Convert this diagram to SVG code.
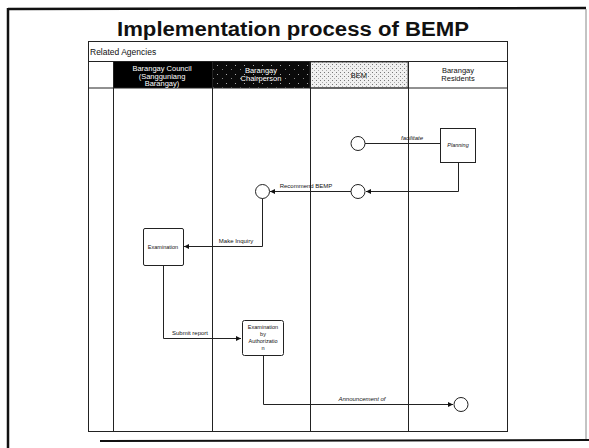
<svg xmlns="http://www.w3.org/2000/svg" width="589" height="448" viewBox="0 0 589 448">
<defs>
<pattern id="speck" width="9" height="9" patternUnits="userSpaceOnUse">
<rect width="9" height="9" fill="#0a0a0a"/>
<rect x="1" y="2" width="1" height="1" fill="#aaa"/>
<rect x="6" y="6" width="1" height="1" fill="#888"/>
</pattern>
<pattern id="stipple" width="4" height="4" patternUnits="userSpaceOnUse">
<rect width="4" height="4" fill="#f0f0f0"/>
<rect x="0" y="0" width="1" height="1" fill="#777"/>
<rect x="2" y="2" width="1" height="1" fill="#aaa"/>
</pattern>
<marker id="arr" viewBox="0 0 6 6" refX="6" refY="3" markerWidth="5" markerHeight="5" orient="auto">
<path d="M0,0 L6,3 L0,6 z" fill="#111"/>
</marker>
</defs>
<style>
.ln{fill:none;stroke:#222;stroke-width:1}
.cn{fill:none;stroke:#222;stroke-width:1}
.box{fill:#fff;stroke:#222;stroke-width:1}
.t{font-family:"Liberation Sans",Arial,sans-serif;fill:#111}
.hw{font-family:"Liberation Sans",Arial,sans-serif;fill:#fff;font-size:7.5px}
.lb{font-family:"Liberation Sans",Arial,sans-serif;fill:#111;font-size:6px}
.nt{font-family:"Liberation Sans",Arial,sans-serif;fill:#111;font-size:5.5px}
</style>
<rect width="589" height="448" fill="#fff"/>
<g id="frame">
<line x1="8" y1="9" x2="586" y2="8" stroke="#111" stroke-width="2.5"/>
<line x1="8" y1="8" x2="8" y2="448" stroke="#111" stroke-width="2.5"/>
<line x1="586" y1="9" x2="586" y2="440" stroke="#888" stroke-width="1"/>
<line x1="100" y1="441" x2="589" y2="440" stroke="#111" stroke-width="2"/>
</g>
<text class="t" x="293" y="36" font-size="20" font-weight="bold" text-anchor="middle" textLength="352" lengthAdjust="spacingAndGlyphs">Implementation process of BEMP</text>
<g id="table">
<rect x="88.5" y="41.5" width="419" height="390" class="ln"/>
<line x1="88" y1="61.5" x2="508" y2="61.5" class="ln"/>
<text class="t" x="90" y="55" font-size="8.5">Related Agencies</text>
<rect x="113" y="62" width="99" height="26" fill="#000"/>
<rect x="212" y="62" width="98" height="26" fill="url(#speck)"/>
<rect x="310" y="62" width="98" height="26" fill="url(#stipple)" stroke="#333" stroke-width="0.8"/>
<line x1="88" y1="88" x2="508" y2="88" class="ln"/>
<line x1="113.5" y1="62" x2="113.5" y2="432" class="ln"/>
<line x1="212.5" y1="62" x2="212.5" y2="432" class="ln"/>
<line x1="310.5" y1="62" x2="310.5" y2="432" class="ln"/>
<line x1="408.5" y1="62" x2="408.5" y2="432" class="ln"/>
<text class="hw" x="162" y="71" text-anchor="middle">Barangay Council</text>
<text class="hw" x="162" y="78.5" text-anchor="middle">(Sangguniang</text>
<text class="hw" x="162" y="86" text-anchor="middle">Barangay)</text>
<text class="hw" x="261" y="73" text-anchor="middle">Barangay</text>
<text class="hw" x="261" y="81" text-anchor="middle">Chairperson</text>
<text class="t" x="359" y="78" font-size="7.5" text-anchor="middle">BEM</text>
<text class="t" x="458" y="73" font-size="7.5" text-anchor="middle">Barangay</text>
<text class="t" x="458" y="81" font-size="7.5" text-anchor="middle">Residents</text>
</g>
<g id="connectors">
<line x1="365" y1="143.5" x2="440" y2="143.5" class="cn"/>
<text class="lb" x="412" y="140" text-anchor="middle" font-style="italic">facilitate</text>
<polyline points="458.5,162 458.5,191.5 366,191.5" class="cn" marker-end="url(#arr)"/>
<line x1="351" y1="191.5" x2="270" y2="191.5" class="cn" marker-end="url(#arr)"/>
<text class="lb" x="306" y="188" text-anchor="middle">Recommend BEMP</text>
<polyline points="262.5,198 262.5,246.5 184,246.5" class="cn" marker-end="url(#arr)"/>
<text class="lb" x="236" y="243" text-anchor="middle">Make Inquiry</text>
<polyline points="163.5,265 163.5,338.5 241,338.5" class="cn" marker-end="url(#arr)"/>
<text class="lb" x="190" y="335" text-anchor="middle">Submit report</text>
<polyline points="263.5,356 263.5,404.5 453,404.5" class="cn" marker-end="url(#arr)"/>
<text class="lb" x="362" y="401" text-anchor="middle" font-style="italic">Announcement of</text>
</g>
<g id="startA"><circle cx="358" cy="143.5" r="7" class="box"/></g>
<g id="planning">
<rect x="440.5" y="128.5" width="35" height="34" class="box"/>
<text class="nt" x="458" y="147" text-anchor="middle" font-style="italic">Planning</text>
</g>
<g id="circleB"><circle cx="358" cy="191.5" r="7" class="box"/></g>
<g id="circleC"><circle cx="262.5" cy="191.5" r="7" class="box"/></g>
<g id="examination">
<rect x="143.5" y="228.5" width="40" height="37" rx="1.5" class="box"/>
<text class="nt" x="163" y="248.5" text-anchor="middle">Examination</text>
</g>
<g id="examAuth">
<rect x="242.5" y="320.5" width="41" height="35" rx="2" class="box"/>
<text class="nt" x="263" y="329" text-anchor="middle">Examination</text>
<text class="nt" x="263" y="336" text-anchor="middle">by</text>
<text class="nt" x="263" y="343" text-anchor="middle">Authorizatio</text>
<text class="nt" x="263" y="350" text-anchor="middle">n</text>
</g>
<g id="endD"><circle cx="461" cy="404.5" r="7" class="box"/></g>
</svg>
